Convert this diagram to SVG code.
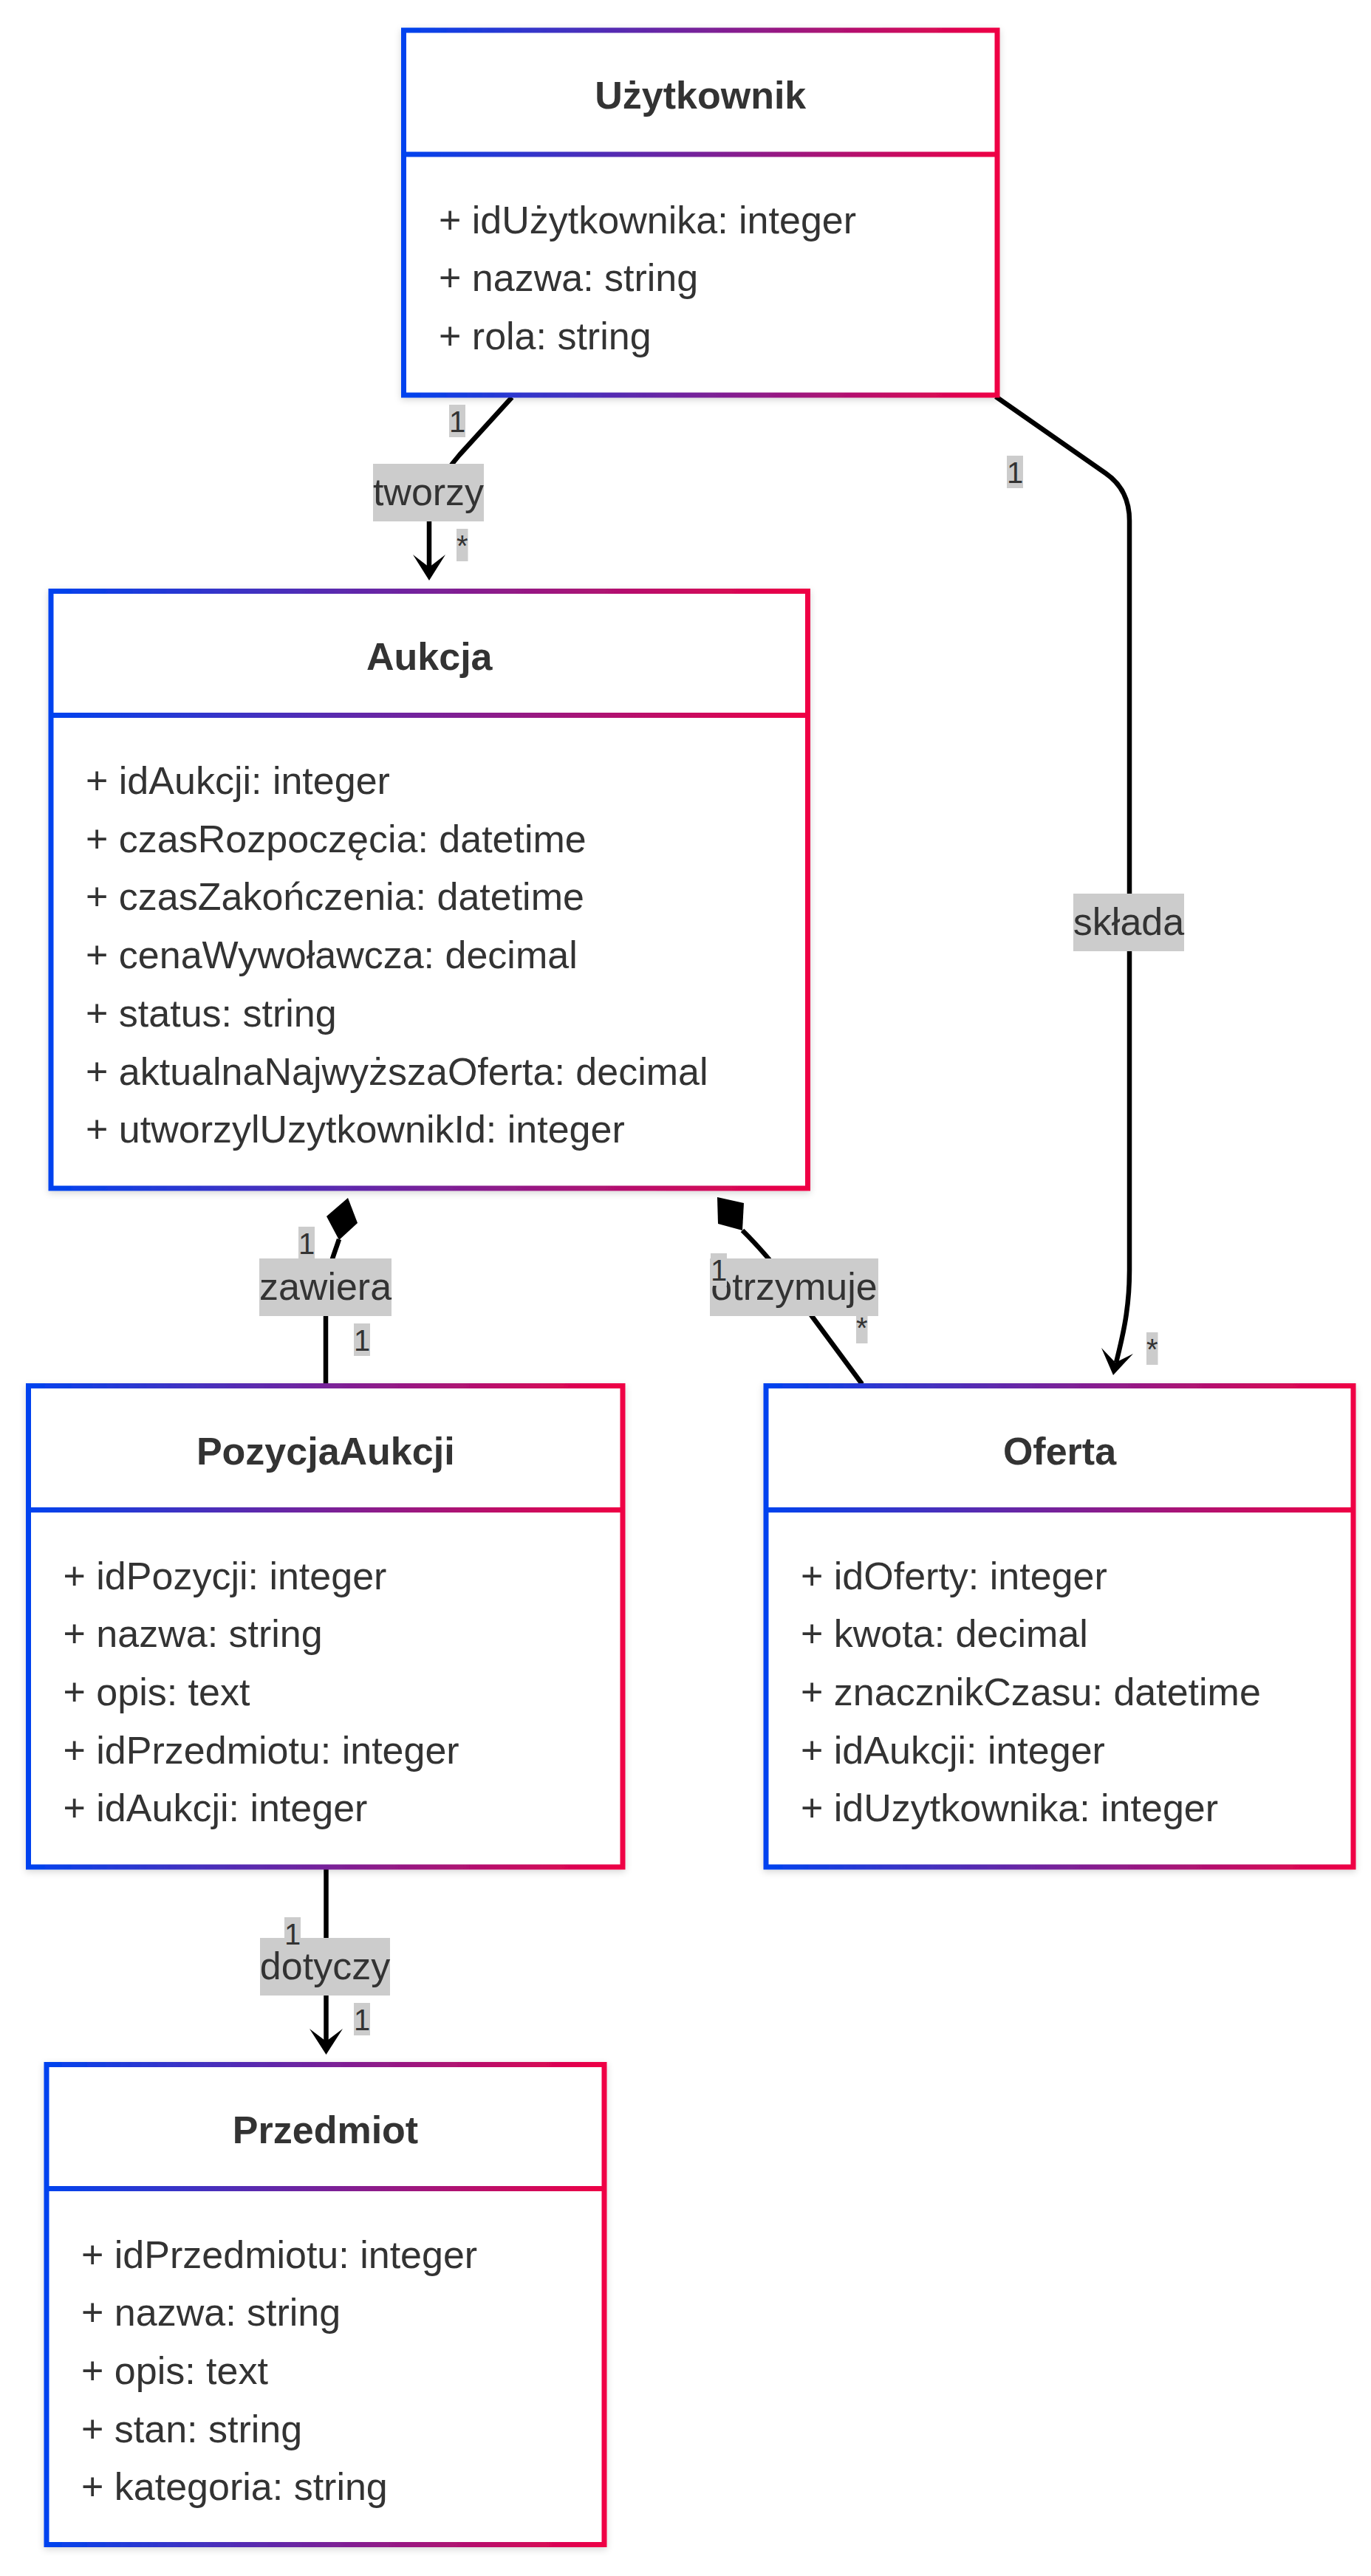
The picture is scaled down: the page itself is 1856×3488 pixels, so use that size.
<svg xmlns="http://www.w3.org/2000/svg" width="1856" height="3488" viewBox="0 0 1856 3488">
  <style>
    .box { fill: #ffffff; stroke: url(#grad); stroke-width: 7; filter: url(#shadow); }
    .div { fill: url(#grad); }
    .title { font-family: "Liberation Sans", Arial, sans-serif; font-size: 52px; font-weight: bold; fill: #333333; text-anchor: middle; }
    .attr { font-family: "Liberation Sans", Arial, sans-serif; font-size: 52px; fill: #333333; }
    .edge { fill: none; stroke: #000000; stroke-width: 6.5; }
    .head { fill: #000000; stroke: none; }
    .lblbg { fill: #cccccc; }
    .lbl { font-family: "Liberation Sans", Arial, sans-serif; font-size: 52px; fill: #333333; text-anchor: middle; }
    .card { font-family: "Liberation Sans", Arial, sans-serif; font-size: 40px; fill: #333333; text-anchor: middle; }
  </style>
  <defs>
    <linearGradient id="grad" x1="0" y1="0" x2="1" y2="0">
      <stop offset="0" stop-color="#0043ef"/>
      <stop offset="1" stop-color="#ef0044"/>
    </linearGradient>
    <filter id="shadow" x="-5%" y="-5%" width="110%" height="110%">
      <feDropShadow dx="0" dy="3" stdDeviation="5" flood-color="#000000" flood-opacity="0.16"/>
    </filter>
  </defs>
  <rect width="1856" height="3488" fill="#ffffff"/>

  <g id="connectors">
    <!-- tworzy -->
    <path class="edge" d="M693,538 L622,616 C598,644 581,672 581,702 L581,770"/>
    <polygon class="head" points="559,751 581,786 603,751 581,768"/>
    <!-- skłda -->
    <path class="edge" d="M1348,537 L1497,641 Q1529,663 1529,705 L1529,1720 C1529,1770 1521,1805 1511,1845"/>
    <polygon class="head" points="1491,1825 1507,1862 1534,1833 1510,1845"/>
    <!-- zawiera -->
    <path class="edge" d="M459,1678 C452,1700 441,1722 441,1760 L441,1874"/>
    <polygon class="head" points="471,1622 484,1656 459,1679 442,1647"/>
    <!-- otrzymuje -->
    <path class="edge" d="M1005,1666 Q1050,1710 1099,1782 L1167,1874"/>
    <polygon class="head" points="971,1621 1007,1629 1005,1666 972,1657"/>
    <!-- dotyczy -->
    <path class="edge" d="M441.5,2530 L441.5,2766"/>
    <polygon class="head" points="419,2747 441.5,2782 464,2747 441.5,2764"/>
  </g>

  <g id="Uzytkownik">
    <rect class="box" x="546.5" y="41" width="803.5" height="494"/>
    <rect class="div" x="546.5" y="205.5" width="803.5" height="7"/>
    <text class="title" x="948.25" y="147">Użytkownik</text>
    <text class="attr" x="594" y="315.5">+ idUżytkownika: integer</text>
    <text class="attr" x="594" y="394.2">+ nazwa: string</text>
    <text class="attr" x="594" y="472.9">+ rola: string</text>
  </g>

  <g id="Aukcja">
    <rect class="box" x="69" y="800.5" width="1024.5" height="808.5"/>
    <rect class="div" x="69" y="965" width="1024.5" height="7"/>
    <text class="title" x="581.25" y="906.5">Aukcja</text>
    <text class="attr" x="116" y="1075">+ idAukcji: integer</text>
    <text class="attr" x="116" y="1153.7">+ czasRozpoczęcia: datetime</text>
    <text class="attr" x="116" y="1232.4">+ czasZakończenia: datetime</text>
    <text class="attr" x="116" y="1311.1">+ cenaWywoławcza: decimal</text>
    <text class="attr" x="116" y="1389.8">+ status: string</text>
    <text class="attr" x="116" y="1468.5">+ aktualnaNajwyższaOferta: decimal</text>
    <text class="attr" x="116" y="1547.2">+ utworzylUzytkownikId: integer</text>
  </g>

  <g id="PozycjaAukcji">
    <rect class="box" x="38.5" y="1876.5" width="804.5" height="651.5"/>
    <rect class="div" x="38.5" y="2041" width="804.5" height="7"/>
    <text class="title" x="440.75" y="1982.5">PozycjaAukcji</text>
    <text class="attr" x="85.5" y="2151.5">+ idPozycji: integer</text>
    <text class="attr" x="85.5" y="2230.2">+ nazwa: string</text>
    <text class="attr" x="85.5" y="2308.9">+ opis: text</text>
    <text class="attr" x="85.5" y="2387.6">+ idPrzedmiotu: integer</text>
    <text class="attr" x="85.5" y="2466.3">+ idAukcji: integer</text>
  </g>

  <g id="Oferta">
    <rect class="box" x="1037" y="1876.5" width="795" height="651.5"/>
    <rect class="div" x="1037" y="2041" width="795" height="7"/>
    <text class="title" x="1434.5" y="1982.5">Oferta</text>
    <text class="attr" x="1084" y="2151.5">+ idOferty: integer</text>
    <text class="attr" x="1084" y="2230.2">+ kwota: decimal</text>
    <text class="attr" x="1084" y="2308.9">+ znacznikCzasu: datetime</text>
    <text class="attr" x="1084" y="2387.6">+ idAukcji: integer</text>
    <text class="attr" x="1084" y="2466.3">+ idUzytkownika: integer</text>
  </g>

  <g id="Przedmiot">
    <rect class="box" x="63" y="2795.5" width="755" height="650"/>
    <rect class="div" x="63" y="2960" width="755" height="7"/>
    <text class="title" x="440.5" y="2901.5">Przedmiot</text>
    <text class="attr" x="110" y="3070.5">+ idPrzedmiotu: integer</text>
    <text class="attr" x="110" y="3149.2">+ nazwa: string</text>
    <text class="attr" x="110" y="3227.9">+ opis: text</text>
    <text class="attr" x="110" y="3306.6">+ stan: string</text>
    <text class="attr" x="110" y="3385.3">+ kategoria: string</text>
  </g>

  <g id="edge-labels">
    <rect class="lblbg" x="505" y="628" width="150" height="78"/>
    <text class="lbl" x="580" y="684">tworzy</text>
    <rect class="lblbg" x="1453" y="1210" width="150" height="78"/>
    <text class="lbl" x="1528" y="1266">składa</text>
    <rect class="lblbg" x="351" y="1704" width="179" height="78"/>
    <text class="lbl" x="440.5" y="1760">zawiera</text>
    <rect class="lblbg" x="961" y="1704" width="228" height="78"/>
    <text class="lbl" x="1075" y="1760">otrzymuje</text>
    <rect class="lblbg" x="352" y="2624" width="176" height="78"/>
    <text class="lbl" x="440" y="2680">dotyczy</text>
  </g>

  <g id="cardinalities">
    <rect class="lblbg" x="608" y="548" width="22" height="44"/>
    <text class="card" x="619" y="585">1</text>
    <rect class="lblbg" x="618" y="716" width="15.5" height="44"/>
    <text class="card" x="625.75" y="753">*</text>
    <rect class="lblbg" x="1363" y="617" width="22" height="44"/>
    <text class="card" x="1374" y="654">1</text>
    <rect class="lblbg" x="1552" y="1804" width="15.5" height="44"/>
    <text class="card" x="1559.75" y="1841">*</text>
    <rect class="lblbg" x="404" y="1661" width="22" height="44"/>
    <text class="card" x="415" y="1698">1</text>
    <rect class="lblbg" x="479" y="1792" width="22" height="44"/>
    <text class="card" x="490" y="1829">1</text>
    <rect class="lblbg" x="962" y="1697" width="22" height="44"/>
    <text class="card" x="973" y="1734">1</text>
    <rect class="lblbg" x="1159" y="1775" width="15.5" height="44"/>
    <text class="card" x="1166.75" y="1812">*</text>
    <rect class="lblbg" x="385" y="2596" width="22" height="44"/>
    <text class="card" x="396" y="2633">1</text>
    <rect class="lblbg" x="479" y="2712" width="22" height="44"/>
    <text class="card" x="490" y="2749">1</text>
  </g>
</svg>
